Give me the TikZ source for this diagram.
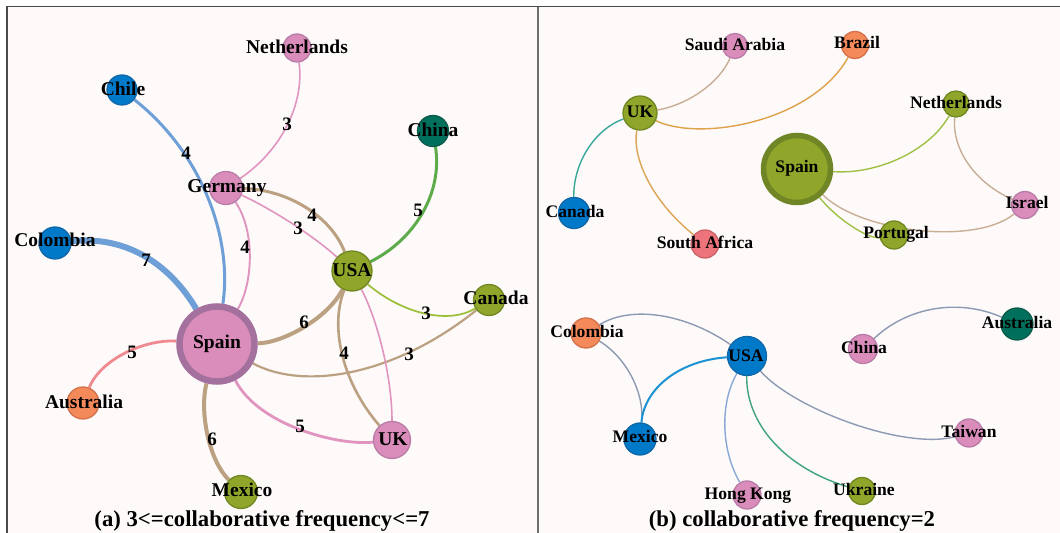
\documentclass[tikz,border=0pt]{standalone}
\usepackage{fontspec}
\setmainfont{Liberation Serif}
\definecolor{paper}{HTML}{FDFAF9}
\definecolor{framegray}{HTML}{4A4A4A}
\definecolor{pinkfill}{HTML}{DA8DBB}
\definecolor{pinkdraw}{HTML}{B97CA8}
\definecolor{spainpurple}{HTML}{A4719F}
\definecolor{bluefill}{HTML}{0079C9}
\definecolor{bluedraw}{HTML}{1067A8}
\definecolor{olivefill}{HTML}{8FA62B}
\definecolor{olivedraw}{HTML}{708722}
\definecolor{spainolive}{HTML}{6F8526}
\definecolor{tealfill}{HTML}{00705C}
\definecolor{tealdraw}{HTML}{0D5B4B}
\definecolor{orangefill}{HTML}{F4895A}
\definecolor{orangedraw}{HTML}{D4714B}
\definecolor{redfill}{HTML}{EC747A}
\definecolor{reddraw}{HTML}{CA646B}
\definecolor{epink}{HTML}{E294C0}
\definecolor{eblue}{HTML}{6E9FD6}
\definecolor{etan}{HTML}{BBA181}
\definecolor{egreen}{HTML}{5DAB4B}
\definecolor{eolive}{HTML}{9BBE37}
\definecolor{esalmon}{HTML}{EF8A90}
\definecolor{etanb}{HTML}{C8AE95}
\definecolor{eorange}{HTML}{DFA24A}
\definecolor{eteal}{HTML}{3AA79B}
\definecolor{eoliveb}{HTML}{A0C146}
\definecolor{egray}{HTML}{8D9AB4}
\definecolor{ebluec}{HTML}{1B93D3}
\definecolor{elblue}{HTML}{88A8D6}
\definecolor{etgreen}{HTML}{40A27E}
\pgfdeclarelayer{paperlayer}
\pgfdeclarelayer{edgelayer}
\pgfsetlayers{paperlayer,edgelayer,main}
\tikzset{
  country/.style={circle,inner sep=0pt,line width=1.3bp},
  pinknode/.style={country,draw=pinkdraw,fill=pinkfill},
  bluenode/.style={country,draw=bluedraw,fill=bluefill},
  olivenode/.style={country,draw=olivedraw,fill=olivefill},
  tealnode/.style={country,draw=tealdraw,fill=tealfill},
  orangenode/.style={country,draw=orangedraw,fill=orangefill},
  rednode/.style={country,draw=reddraw,fill=redfill},
  lbla/.style={inner sep=0pt,text height=13bp,text depth=0pt,
    font=\fontsize{19.5bp}{20bp}\selectfont\bfseries},
  lblb/.style={inner sep=0pt,text height=11.7bp,text depth=0pt,
    font=\fontsize{17.6bp}{18bp}\selectfont\bfseries},
  wlbl/.style={inner sep=0pt,text height=12.5bp,text depth=0pt,
    font=\fontsize{19bp}{19bp}\selectfont\bfseries},
  caption/.style={inner sep=0pt,text height=15bp,text depth=0pt,
    font=\fontsize{22.7bp}{23bp}\selectfont\bfseries},
  thin/.style={line width=1.4bp},
}
\begin{document}
\begin{tikzpicture}[x=1bp,y=-1bp,line cap=round]
\useasboundingbox (0,0) rectangle (1060,533);
\begin{pgfonlayer}{paperlayer}
\fill[white] (0,0) rectangle (1060,533);
\fill[paper] (7,6) rectangle (1060,533);
\draw[framegray,line width=1.6bp,line cap=butt] (7,533) -- (7,6.5) -- (1060,6.5);
\draw[framegray!80,line width=1.6bp,line cap=butt] (538,7) -- (538,533);
\end{pgfonlayer}
%% (a) 3<=frequency<=7
\node (a_nl) at (297,48) [pinknode,minimum size=28bp] {};
\node (a_chile) at (122,90) [bluenode,minimum size=30bp] {};
\node (a_china) at (433,131) [tealnode,minimum size=31bp] {};
\node (a_ger) at (226,188) [pinknode,minimum size=33bp] {};
\node (a_col) at (55,243) [bluenode,minimum size=32bp] {};
\node (a_usa) at (352,271) [olivenode,minimum size=40bp] {};
\node (a_can) at (489,300) [olivenode,minimum size=31bp] {};
\node (a_spain) at (217,344) [pinknode,draw=spainpurple,line width=6.5bp,minimum size=75bp] {};
\node (a_aus) at (83,403) [orangenode,minimum size=32bp] {};
\node (a_uk) at (392,440) [pinknode,minimum size=37bp] {};
\node (a_mex) at (241,492) [olivenode,minimum size=33bp] {};
\begin{pgfonlayer}{edgelayer}
\draw [epink,line width=1.6bp] (a_nl) .. controls (304.7,104) and (281,150.7) .. (a_ger);
\draw [eblue,line width=3bp] (a_chile) .. controls (201,152) and (232.7,236.7) .. (a_spain);
\draw [epink,line width=1.9bp] (a_ger) .. controls (255.7,232) and (252.7,284) .. (a_spain);
\draw [etan,line width=3bp] (a_ger) .. controls (289.3,189.7) and (331.3,217.3) .. (a_usa);
\draw [epink,line width=1.6bp] (a_ger) .. controls (273.3,209.7) and (315.3,237.3) .. (a_usa);
\draw [egreen,line width=3bp] (a_china) .. controls (442.6,192.4) and (415.6,239) .. (a_usa);
\draw [eblue,line width=6bp] (a_col) .. controls (130,235) and (172,268) .. (a_spain);
\draw [eolive,line width=1.7bp] (a_usa) .. controls (403.6,314.6) and (449.3,324.3) .. (a_can);
\draw [etan,line width=4bp] (a_spain) .. controls (282.6,343) and (327.6,318.6) .. (a_usa);
\draw [etan,line width=2.2bp] (a_spain) .. controls (303.6,390.7) and (394.3,376) .. (a_can);
\draw [etan,line width=2.6bp] (a_usa) .. controls (329.3,327) and (342.7,383.4) .. (a_uk);
\draw [epink,line width=1.6bp] (a_usa) .. controls (378.6,322.6) and (392,379) .. (a_uk);
\draw [epink,line width=2.8bp] (a_spain) .. controls (258,425) and (338,446) .. (a_uk);
\draw [esalmon,line width=2.8bp] (a_spain) .. controls (145.6,339) and (101,358.6) .. (a_aus);
\draw [etan,line width=4bp] (a_spain) .. controls (199.6,409.4) and (207.6,458.7) .. (a_mex);
\end{pgfonlayer}
\node (t_a_nl) at (297,47) [lbla] {Netherlands};
\node (t_a_chile) at (123,89) [lbla] {Chile};
\node (t_a_china) at (433,130) [lbla] {China};
\node (t_a_ger) at (227,186) [lbla] {Germany};
\node (t_a_col) at (55,240) [lbla] {Colombia};
\node (t_a_usa) at (352,270) [lbla] {USA};
\node (t_a_can) at (496,298) [lbla] {Canada};
\node (t_a_spain) at (217,342) [lbla] {Spain};
\node (t_a_aus) at (84,402) [lbla] {Australia};
\node (t_a_uk) at (393,439) [lbla] {UK};
\node (t_a_mex) at (242,490) [lbla] {Mexico};
\node (w_a_nl) at (287,124) [wlbl] {3};
\node (w_a_chile) at (186,153) [wlbl] {4};
\node (w_a_gersp) at (245,247) [wlbl] {4};
\node (w_a_gerusa) at (312,215) [wlbl] {4};
\node (w_a_gerusb) at (298,228) [wlbl] {3};
\node (w_a_china) at (418,210) [wlbl] {5};
\node (w_a_col) at (146,260) [wlbl] {7};
\node (w_a_usacan) at (426,313) [wlbl] {3};
\node (w_a_spusa) at (304,322) [wlbl] {6};
\node (w_a_spcan) at (409,354) [wlbl] {3};
\node (w_a_usauk) at (344,353) [wlbl] {4};
\node (w_a_spuk) at (300,426) [wlbl] {5};
\node (w_a_aus) at (132,352) [wlbl] {5};
\node (w_a_mex) at (212,439) [wlbl] {6};
\node (cap_a) at (262,519) [caption] {(a) 3<=collaborative frequency<=7};
%% (b) frequency=2
\node (b_saudi) at (735,46) [pinknode,minimum size=25bp] {};
\node (b_brazil) at (855,45) [orangenode,minimum size=27bp] {};
\node (b_uk) at (640,113) [olivenode,minimum size=34bp] {};
\node (b_nl) at (956,104) [olivenode,minimum size=26bp] {};
\node (b_spain) at (797,169) [olivenode,draw=spainolive,line width=5.5bp,minimum size=67bp] {};
\node (b_can) at (574,213) [bluenode,minimum size=31bp] {};
\node (b_israel) at (1025,205) [pinknode,minimum size=27bp] {};
\node (b_port) at (894,235) [olivenode,minimum size=28bp] {};
\node (b_safrica) at (705,244) [rednode,minimum size=28bp] {};
\node (c_col) at (586,333) [orangenode,minimum size=30bp] {};
\node (c_usa) at (747,356) [bluenode,minimum size=39bp] {};
\node (c_china) at (863,349) [pinknode,minimum size=29bp] {};
\node (c_aus) at (1017,324) [tealnode,minimum size=32bp] {};
\node (c_mex) at (640,439) [bluenode,minimum size=32bp] {};
\node (c_taiwan) at (969,433) [pinknode,minimum size=28bp] {};
\node (c_hk) at (747,495) [pinknode,minimum size=28bp] {};
\node (c_ukr) at (862,491) [olivenode,minimum size=27bp] {};
\begin{pgfonlayer}{edgelayer}
\draw [etanb,thin] (b_uk) .. controls (688.3,104.7) and (720,82.3) .. (b_saudi);
\draw [eorange,thin] (b_uk) .. controls (700,142) and (812,122) .. (b_brazil);
\draw [eteal,thin] (b_uk) .. controls (595.3,129) and (573.3,162.3) .. (b_can);
\draw [eorange!85!etanb,thin] (b_uk) .. controls (631.6,158.7) and (653.3,202.3) .. (b_safrica);
\draw [eoliveb,thin] (b_spain) .. controls (874.7,174.6) and (927.7,153) .. (b_nl);
\draw [eoliveb,thin] (b_spain) .. controls (835.4,217.6) and (867.7,239.6) .. (b_port);
\draw [etanb,thin] (b_spain) .. controls (860,232) and (975,246) .. (b_israel);
\draw [etanb,thin] (b_nl) .. controls (951.7,149) and (974.7,182.6) .. (b_israel);
\draw [egray,thin] (c_col) .. controls (631,305.3) and (684.7,313) .. (c_usa);
\draw [egray,thin] (c_col) .. controls (626.6,357.7) and (644.6,393) .. (c_mex);
\draw [ebluec,line width=2bp] (c_usa) .. controls (680,360.4) and (644.3,388) .. (c_mex);
\draw [elblue,thin] (c_usa) .. controls (720.3,402) and (720.3,448.3) .. (c_hk);
\draw [etgreen,thin] (c_usa) .. controls (746,423) and (784.3,468) .. (c_ukr);
\draw [egray,thin] (c_usa) .. controls (795,410) and (905,450) .. (c_taiwan);
\draw [egray,thin] (c_china) .. controls (907.7,306.6) and (959,298.3) .. (c_aus);
\end{pgfonlayer}
\node (t_b_saudi) at (735,45) [lblb] {Saudi Arabia};
\node (t_b_brazil) at (857,43) [lblb] {Brazil};
\node (t_b_uk) at (640,112) [lblb] {UK};
\node (t_b_nl) at (956,103) [lblb] {Netherlands};
\node (t_b_spain) at (797,167) [lblb] {Spain};
\node (t_b_can) at (575,212) [lblb] {Canada};
\node (t_b_israel) at (1027,203) [lblb] {Israel};
\node (t_b_port) at (896,233) [lblb] {Portugal};
\node (t_b_safrica) at (705,243) [lblb] {South Africa};
\node (t_c_col) at (587,332) [lblb] {Colombia};
\node (t_c_usa) at (746,356) [lblb] {USA};
\node (t_c_china) at (864,348) [lblb] {China};
\node (t_c_aus) at (1017,323) [lblb] {Australia};
\node (t_c_mex) at (640,437) [lblb] {Mexico};
\node (t_c_taiwan) at (969,432) [lblb] {Taiwan};
\node (t_c_hk) at (748,494) [lblb] {Hong Kong};
\node (t_c_ukr) at (864,490) [lblb] {Ukraine};
\node (cap_b) at (792,519) [caption] {(b) collaborative frequency=2};
\end{tikzpicture}
\end{document}
